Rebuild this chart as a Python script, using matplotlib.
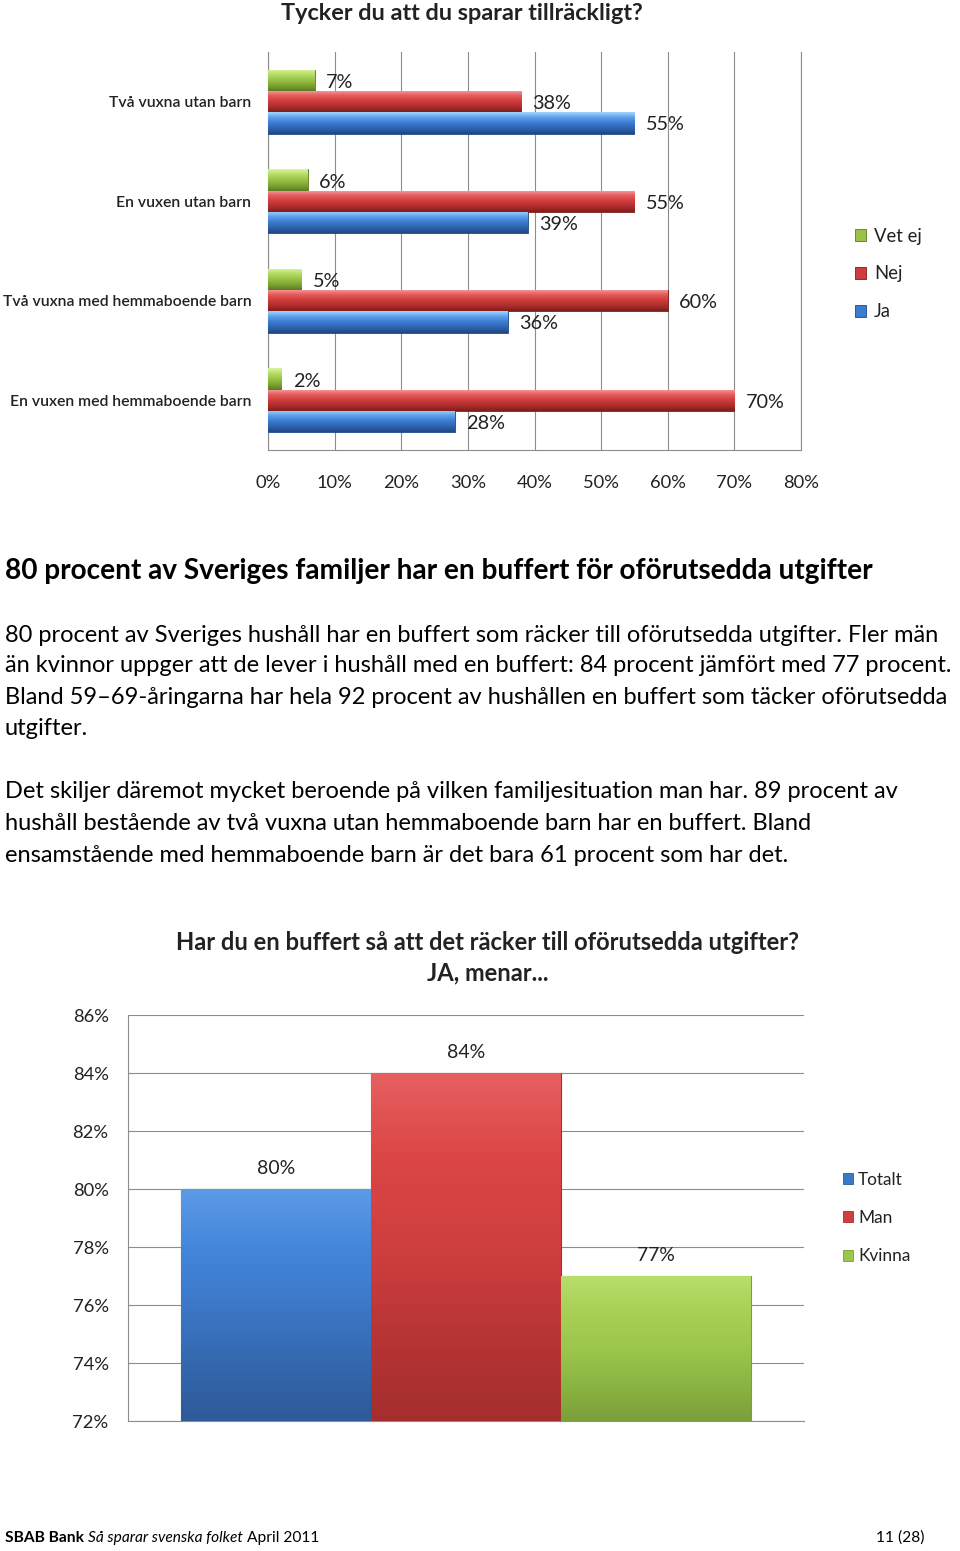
import matplotlib
matplotlib.use('Agg')
import matplotlib.pyplot as plt
import numpy as np
from matplotlib.patches import Rectangle
from matplotlib.colors import LinearSegmentedColormap

W, H = 960, 1551
FONT = ['Lato', 'DejaVu Sans']
plt.rcParams['font.family'] = FONT

# ---------------- data ----------------
title1 = "Tycker du att du sparar tillräckligt?"
groups = ["Två vuxna utan barn", "En vuxen utan barn",
          "Två vuxna med hemmaboende barn", "En vuxen med hemmaboende barn"]
series1 = ["Ja", "Nej", "Vet ej"]
ja = [55, 39, 36, 28]
nej = [38, 55, 60, 70]
vet_ej = [7, 6, 5, 2]
xticks1 = [0, 10, 20, 30, 40, 50, 60, 70, 80]

title2 = ["Har du en buffert så att det räcker till oförutsedda utgifter?", "JA, menar..."]
series2 = ["Totalt", "Man", "Kvinna"]
ja_share = [80, 84, 77]
yticks2 = [72, 74, 76, 78, 80, 82, 84, 86]

heading = "80 procent av Sveriges familjer har en buffert för oförutsedda utgifter"
body = [
    "80 procent av Sveriges hushåll har en buffert som räcker till oförutsedda utgifter. Fler män",
    "än kvinnor uppger att de lever i hushåll med en buffert: 84 procent jämfört med 77 procent.",
    "Bland 59–69-åringarna har hela 92 procent av hushållen en buffert som täcker oförutsedda",
    "utgifter.",
    "",
    "Det skiljer däremot mycket beroende på vilken familjesituation man har. 89 procent av",
    "hushåll bestående av två vuxna utan hemmaboende barn har en buffert. Bland",
    "ensamstående med hemmaboende barn är det bara 61 procent som har det.",
]
footer_parts = [("SBAB Bank", 'bold', 'normal'), ("Så sparar svenska folket", 'normal', 'italic'),
                ("April 2011", 'normal', 'normal')]
page_no = "11 (28)"

# ---------------- styles ----------------
BLUE = ['#a6d4ff', '#5c9fea', '#3b7bd0', '#2e63ae', '#1f4782']
RED = ['#f7a3a3', '#e55b5b', '#d03c3c', '#b02d2d', '#7d1d1d']
GREEN = ['#dcf5a0', '#b5dc64', '#98c346', '#7da332', '#5a7b1f']
BLUE_V = ['#5d9be6', '#4386db', '#3c78c8', '#3468ae', '#2d5a98']
RED_V = ['#e66060', '#db4545', '#cf3f3f', '#b83535', '#a42e2e']
GREEN_V = ['#b9de6c', '#a7d054', '#9cc64c', '#8ab542', '#7b9f3a']
GRID = '#8c8c8c'
TXT = '#222222'

fig = plt.figure(figsize=(W / 100, H / 100), dpi=100)
fig.patch.set_facecolor('white')
R = fig.canvas.get_renderer()


def rect(l, t, r, b):
    return [l / W, 1 - b / H, (r - l) / W, (b - t) / H]


def size_for(s, target, weight='normal', style='normal', base=12):
    t = fig.text(0, 0, s, fontsize=base, weight=weight, style=style)
    w = t.get_window_extent(R).width
    t.remove()
    return base * target / w


def ftext(x, y, s, **kw):
    return fig.text(x / W, 1 - y / H, s, **kw)


def gradient_fill(ax, patch, colors):
    cmap = LinearSegmentedColormap.from_list('g', colors)
    x0, y0 = patch.get_x(), patch.get_y()
    w, h = patch.get_width(), patch.get_height()
    grad = np.linspace(0, 1, 256).reshape(-1, 1)
    yl = ax.get_ylim()
    if yl[0] > yl[1]:  # inverted axis: smaller y is visually top
        extent = (x0, x0 + w, y0 + h, y0)
    else:
        extent = (x0, x0 + w, y0, y0 + h)
    im = ax.imshow(grad, cmap=cmap, extent=extent, origin='upper', aspect='auto',
                   interpolation='bilinear', zorder=patch.get_zorder() + 0.1)
    im.set_clip_path(patch)


# ================= chart 1 =================
ax1 = fig.add_axes(rect(268, 52, 801, 450))
ypos = np.arange(len(groups))
hb = 0.213
vals1 = [ja, nej, vet_ej]
offs1 = [hb, 0.0, -hb]
cols1 = [BLUE, RED, GREEN]
ax1.set_xlim(0, 80)
ax1.set_ylim(3.5, -0.5)
conts1 = []
for vals, off, cols in zip(vals1, offs1, cols1):
    c = ax1.barh(ypos + off, vals, height=hb, color=cols[2], edgecolor=cols[4],
                 linewidth=0.6, zorder=3)
    conts1.append(c)
for c, cols in zip(conts1, cols1):
    for p in c.patches:
        gradient_fill(ax1, p, cols)
ax1.set_xlim(0, 80)
ax1.set_ylim(3.5, -0.5)

lab_fs1 = size_for("55%", 39)
for c, vals, off in zip(conts1, vals1, offs1):
    for y, v in zip(ypos, vals):
        ax1.text(v + 1.7, y + off + 0.02, f"{v}%", va='center', ha='left',
                 fontsize=lab_fs1, color=TXT, zorder=5)

ax1.set_xticks(xticks1)
ax1.set_xticklabels([f"{v}%" for v in xticks1], fontsize=size_for("10%", 36), color=TXT)
ax1.set_yticks(ypos)
cat_fs = size_for(groups[2], 249, weight='semibold')
ax1.set_yticklabels(groups, fontsize=cat_fs, weight='semibold', color=TXT)
ax1.tick_params(axis='x', length=0, pad=18)
ax1.tick_params(axis='y', length=0, pad=12)
ax1.grid(axis='x', color=GRID, linewidth=0.8, zorder=0)
ax1.set_axisbelow(True)
ax1.spines['top'].set_visible(False)
for s in ['left', 'bottom', 'right']:
    ax1.spines[s].set_color(GRID)
    ax1.spines[s].set_linewidth(0.8)

ftext(462, 14, title1, ha='center', va='center', weight='bold',
      fontsize=size_for(title1, 360, weight='bold'), color=TXT)

leg_fs1 = size_for("Vet ej", 48)
handles1 = [Rectangle((0, 0), 1, 1, facecolor=cols[2], edgecolor=cols[4], linewidth=0.6)
            for cols in cols1][::-1]
fig.legend(handles1, series1[::-1], loc='center left',
           bbox_to_anchor=(846 / W, 1 - 274 / H), frameon=False, fontsize=leg_fs1,
           handlelength=0.6, handleheight=0.6, handletextpad=0.4, labelspacing=1.12,
           borderpad=0, labelcolor=TXT)

# ================= text block =================
ftext(5, 571, heading, ha='left', va='center', weight='bold',
      fontsize=size_for(heading, 863, weight='bold'), color='black')
body_fs = size_for(body[0], 935)
body_y = [635, 666, 698, 729, 760, 792, 823, 855]
for s, y in zip(body, body_y):
    if s:
        ftext(5, y, s, ha='left', va='center', fontsize=body_fs, color='black')

# ================= chart 2 =================
ax2 = fig.add_axes(rect(128, 1015, 804, 1421))
xpos2 = np.arange(len(series2)) - 1.0
cols2 = [BLUE_V, RED_V, GREEN_V]
ax2.set_xlim(-1.78, 1.78)
ax2.set_ylim(72, 86)
conts2 = []
for x, v, cols in zip(xpos2, ja_share, cols2):
    c = ax2.bar([x], [v - 72], bottom=72, width=1.0, color=cols[2], edgecolor=cols[4],
                linewidth=0.8, zorder=3)
    conts2.append(c)
for c, cols in zip(conts2, cols2):
    for p in c.patches:
        gradient_fill(ax2, p, cols)
ax2.set_xlim(-1.78, 1.78)
ax2.set_ylim(72, 86)
lab_fs2 = size_for("84%", 38)
for x, v in zip(xpos2, ja_share):
    ax2.text(x, v + 0.7, f"{v}%", ha='center', va='center', fontsize=lab_fs2,
             color=TXT, zorder=5)
ax2.set_xticks([])
ax2.set_yticks(yticks2)
ax2.set_yticklabels([f"{v}%" for v in yticks2], fontsize=size_for("86%", 36), color=TXT)
ax2.tick_params(axis='y', length=0, pad=14)
ax2.grid(axis='y', color=GRID, linewidth=0.8, zorder=0)
ax2.set_axisbelow(True)
for s in ['top', 'right']:
    ax2.spines[s].set_visible(False)
for s in ['left', 'bottom']:
    ax2.spines[s].set_color(GRID)
    ax2.spines[s].set_linewidth(0.8)

t2fs = size_for(title2[0], 620, weight='bold')
ftext(488, 942, title2[0], ha='center', va='center', weight='bold', fontsize=t2fs, color=TXT)
ftext(488, 973, title2[1], ha='center', va='center', weight='bold', fontsize=t2fs, color=TXT)

leg_fs2 = size_for("Kvinna", 52)
handles2 = [Rectangle((0, 0), 1, 1, facecolor=cols[2], edgecolor=cols[4], linewidth=0.6)
            for cols in cols2]
fig.legend(handles2, series2, loc='center left',
           bbox_to_anchor=(834 / W, 1 - 1218 / H), frameon=False, fontsize=leg_fs2,
           handlelength=0.6, handleheight=0.6, handletextpad=0.3, labelspacing=1.3,
           borderpad=0, labelcolor=TXT)

# ================= footer =================
foot_fs = size_for(page_no, 48)
x = 5
for s, wgt, sty in footer_parts:
    t = ftext(x, 1538, s, ha='left', va='center', fontsize=foot_fs, weight=wgt, style=sty,
              color='black')
    bb = t.get_window_extent(R)
    x = bb.x1 + foot_fs * 0.35
ftext(925, 1538, page_no, ha='right', va='center', fontsize=foot_fs, color='black')

fig.savefig('out.png', dpi=100, facecolor='white')
